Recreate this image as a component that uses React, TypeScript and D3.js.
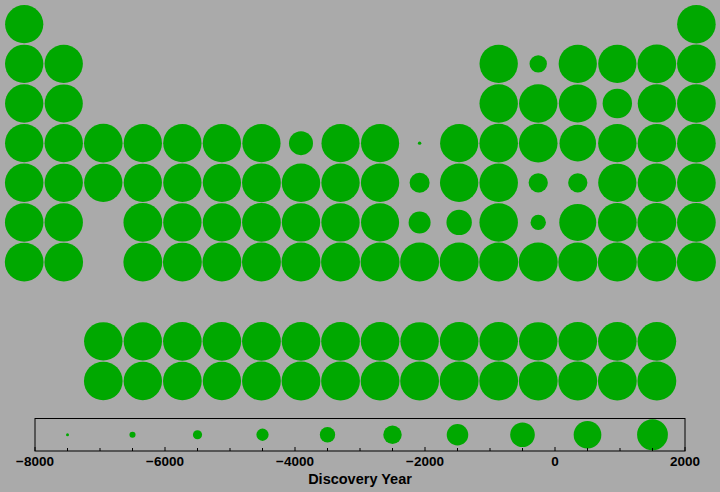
import React from "react";
import * as d3 from "d3";

const symbols = [
  "H","He","Li","Be","B","C","N","O","F","Ne","Na","Mg","Al","Si","P","S","Cl","Ar",
  "K","Ca","Sc","Ti","V","Cr","Mn","Fe","Co","Ni","Cu","Zn","Ga","Ge","As","Se","Br","Kr",
  "Rb","Sr","Y","Zr","Nb","Mo","Tc","Ru","Rh","Pd","Ag","Cd","In","Sn","Sb","Te","I","Xe",
  "Cs","Ba","La","Ce","Pr","Nd","Pm","Sm","Eu","Gd","Tb","Dy","Ho","Er","Tm","Yb","Lu",
  "Hf","Ta","W","Re","Os","Ir","Pt","Au","Hg","Tl","Pb","Bi","Po","At","Rn",
  "Fr","Ra","Ac","Th","Pa","U","Np","Pu","Am","Cm","Bk","Cf","Es","Fm","Md","No","Lr",
  "Rf","Db","Sg","Bh","Hs","Mt","Ds","Rg","Cn","Nh","Fl","Mc","Lv","Ts","Og",
];

const discoveryYears = [
  1766, 1868, 1817, 1798, 1808, -4670, 1772, 1774, 1886, 1898, 1807, 1755, 1825, 1824, 1669, -960, 1774, 1894,
  1807, 1808, 1879, 1791, 1801, 1797, 1774, -2630, 1735, 1751, -9000, 1746, 1875, 1886, 1250, 1817, 1826, 1898,
  1861, 1790, 1794, 1789, 1801, 1778, 1937, 1844, 1803, 1803, -3870, 1817, 1863, -4100, -4100, 1782, 1811, 1898,
  1860, 1808, 1839, 1803, 1885, 1885, 1945, 1879, 1901, 1880, 1843, 1886, 1878, 1842, 1879, 1878, 1907,
  1923, 1802, 1783, 1925, 1803, 1803, 1735, -3250, -2200, 1861, -5300, 1400, 1898, 1940, 1900,
  1939, 1898, 1899, 1829, 1913, 1789, 1940, 1940, 1944, 1944, 1949, 1950, 1952, 1952, 1955, 1958, 1961,
  1964, 1967, 1974, 1981, 1984, 1982, 1994, 1994, 1996, 2003, 1999, 2003, 2000, 2010, 2002,
];

const legendYears = [-7500, -6500, -5500, -4500, -3500, -2500, -1500, -500, 500, 1500];
const legendTicks = d3.range(-8000, 2001, 500);
const legendLabels = [-8000, -6000, -4000, -2000, 0, 2000];

// group (column) and period (row) from atomic number; f-block placed in rows 9 and 10
function cell(z: number): [number, number] {
  if (z === 1) return [1, 1];
  if (z === 2) return [18, 1];
  if (z <= 4) return [z - 2, 2];
  if (z <= 10) return [z + 8, 2];
  if (z <= 12) return [z - 10, 3];
  if (z <= 18) return [z, 3];
  if (z <= 36) return [z - 18, 4];
  if (z <= 54) return [z - 36, 5];
  if (z <= 56) return [z - 54, 6];
  if (z <= 71) return [z - 54, 9];
  if (z <= 86) return [z - 68, 6];
  if (z <= 88) return [z - 86, 7];
  if (z <= 103) return [z - 86, 10];
  return [z - 100, 7];
}

const W = 720;
const H = 492;
const BG = "#aaaaaa";
const GREEN = "rgb(0,168,0)";
const FONT = "'Liberation Sans', Arial, Helvetica, sans-serif";

export default function App() {
  const x = d3.scaleLinear().domain([1, 18]).range([24.2, 696.4]);
  const y = d3.scaleLinear().domain([1, 10]).range([24.2, 381]);
  const r = d3.scaleLinear().domain([-9000, 2010]).range([1.7, 19.5]);

  const lx = d3.scaleLinear().domain([-8000, 2000]).range([35, 685]);
  const lr = d3.scaleLinear().domain([-7500, 1500]).range([1.5, 15.4]);
  const boxTop = 418.5;
  const boxBottom = 451;
  const fmt = d3.format("d");

  const data = symbols.map((s, i) => {
    const [c, p] = cell(i + 1);
    return { s, c, p, year: discoveryYears[i] };
  });

  return (
    <svg
      width={W}
      height={H}
      style={{ position: "absolute", left: 0, top: 0, display: "block" }}
      fontFamily={FONT}
    >
      <rect x={0} y={0} width={W} height={H} fill={BG} />
      <g>
        {data.map((d) => (
          <circle key={d.s} cx={x(d.c)} cy={y(d.p)} r={r(d.year)} fill={GREEN}>
            <title>{`${d.s}: ${d.year}`}</title>
          </circle>
        ))}
      </g>
      <g>
        <rect
          x={lx(-8000)}
          y={boxTop}
          width={lx(2000) - lx(-8000)}
          height={boxBottom - boxTop}
          fill="none"
          stroke="#000"
          strokeWidth={1}
        />
        {legendYears.map((v) => (
          <circle key={v} cx={lx(v)} cy={(boxTop + boxBottom) / 2} r={lr(v)} fill={GREEN} />
        ))}
        {legendTicks.map((t) => (
          <line
            key={t}
            x1={lx(t)}
            x2={lx(t)}
            y1={boxBottom}
            y2={boxBottom - (t % 2000 === 0 ? 4 : 3)}
            stroke="#000"
            strokeWidth={1}
          />
        ))}
        {legendLabels.map((t) => (
          <text
            key={t}
            x={lx(t)}
            y={466}
            textAnchor="middle"
            fontSize={13.5}
            fontWeight="bold"
            fill="#000"
          >
            {t < 0 ? "\u2212" + fmt(-t) : fmt(t)}
          </text>
        ))}
        <text x={360} y={484} textAnchor="middle" fontSize={14.5} fontWeight="bold" fill="#000">
          Discovery Year
        </text>
      </g>
    </svg>
  );
}
